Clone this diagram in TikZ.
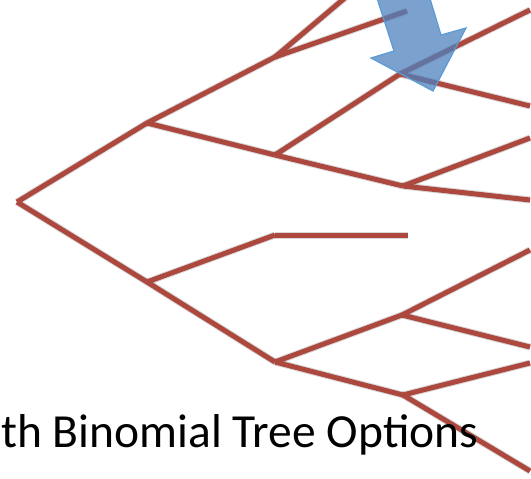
\documentclass[tikz,border=0pt]{standalone}
\usepackage{fontspec}
\setmainfont{Carlito}
\definecolor{branch}{RGB}{172,72,62}
\definecolor{arrowfill}{RGB}{79,129,189}
\definecolor{arrowline}{RGB}{91,155,213}
\begin{document}
\begin{tikzpicture}[x=1pt,y=-1pt,
  branchline/.style={draw=branch,line width=5pt},
  shadowline/.style={draw=black,opacity=0.15,line width=7pt},
  bigarrow/.style={fill=arrowfill,fill opacity=0.75,draw=arrowline,line width=1.2pt,line join=miter}]
\useasboundingbox (0,0) rectangle (531,479);
% nodes
\coordinate (R) at (17,202);
\coordinate (A) at (147,123);
\coordinate (B) at (147,282);
\coordinate (C) at (275,57);
\coordinate (D) at (275,155);
\coordinate (E) at (275,235);
\coordinate (F) at (275,362);
\coordinate (G) at (400,74);
\coordinate (H) at (403,186);
\coordinate (I) at (402,315);
\coordinate (J) at (403,395);
\coordinate (Ct) at (346,-3);
\coordinate (Cr) at (407,11);
\coordinate (Er) at (408,235);
\coordinate (G1) at (530,10);
\coordinate (G2) at (530,106);
\coordinate (H1) at (530,138);
\coordinate (H2) at (530,200);
\coordinate (I1) at (530,250);
\coordinate (I2) at (530,347);
\coordinate (J1) at (530,363);
\coordinate (J2) at (530,471);
% shadows
\begin{scope}[shift={(1.5,2.5)}]
\foreach \a/\b in {R/A,R/B,A/C,A/D,B/E,B/F,C/Ct,C/Cr,D/G,D/H,E/Er,F/I,F/J,G/G1,G/G2,H/H1,H/H2,I/I1,I/I2,J/J1,J/J2}
  \path[shadowline] (\a) -- (\b);
\end{scope}
% branches
\foreach \a/\b in {R/A,R/B,A/C,A/D,B/E,B/F,C/Ct,C/Cr,D/G,D/H,E/Er,F/I,F/J,G/G1,G/G2,H/H1,H/H2,I/I1,I/I2,J/J1,J/J2}
  \path[branchline] (\a) -- (\b);
% arrow
\path[bigarrow] (375,-8) -- (428,-8) -- (441,35) -- (466,28) -- (433,91) -- (371,58) -- (394,51) -- cycle;
% title
\node[anchor=base west,inner sep=0pt,font=\fontsize{47.5}{56}\selectfont] (title) at (1,447) {th Binomial Tree Options};
\end{tikzpicture}
\end{document}
